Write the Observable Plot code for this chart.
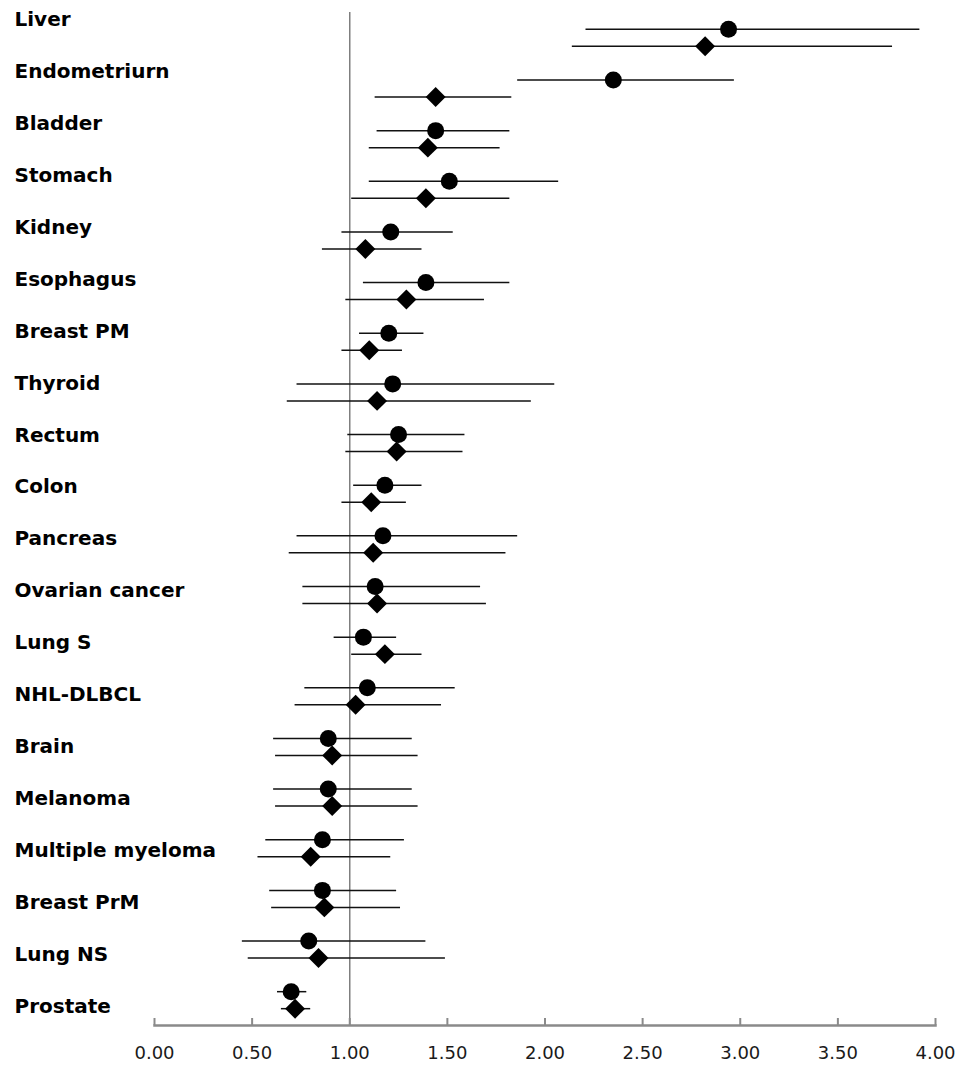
<!DOCTYPE html>
<html>
<head>
<meta charset="utf-8">
<script src="https://cdn.jsdelivr.net/npm/d3@7"></script>
<script src="https://cdn.jsdelivr.net/npm/@observablehq/plot@0.6"></script>
<style>
  html, body { margin: 0; padding: 0; background: #fff; }
  #chart svg { display: block; }
</style>
</head>
<body>
<div id="chart"></div>
<script>
// Categories, top to bottom
const categories = ["Liver", "Endometriurn", "Bladder", "Stomach", "Kidney", "Esophagus", "Breast PM",
  "Thyroid", "Rectum", "Colon", "Pancreas", "Ovarian cancer", "Lung S", "NHL-DLBCL", "Brain",
  "Melanoma", "Multiple myeloma", "Breast PrM", "Lung NS", "Prostate"];

// Series 1 (circles): estimate and interval
const circleEst = [2.94, 2.35, 1.44, 1.51, 1.21, 1.39, 1.20, 1.22, 1.25, 1.18, 1.17, 1.13, 1.07, 1.09, 0.89, 0.89, 0.86, 0.86, 0.79, 0.70];
const circleLo  = [2.21, 1.86, 1.14, 1.10, 0.96, 1.07, 1.05, 0.73, 0.99, 1.02, 0.73, 0.76, 0.92, 0.77, 0.61, 0.61, 0.57, 0.59, 0.45, 0.63];
const circleHi  = [3.92, 2.97, 1.82, 2.07, 1.53, 1.82, 1.38, 2.05, 1.59, 1.37, 1.86, 1.67, 1.24, 1.54, 1.32, 1.32, 1.28, 1.24, 1.39, 0.78];

// Series 2 (diamonds): estimate and interval
const diamondEst = [2.82, 1.44, 1.40, 1.39, 1.08, 1.29, 1.10, 1.14, 1.24, 1.11, 1.12, 1.14, 1.18, 1.03, 0.91, 0.91, 0.80, 0.87, 0.84, 0.72];
const diamondLo  = [2.14, 1.13, 1.10, 1.01, 0.86, 0.98, 0.96, 0.68, 0.98, 0.96, 0.69, 0.76, 1.01, 0.72, 0.62, 0.62, 0.53, 0.60, 0.48, 0.65];
const diamondHi  = [3.78, 1.83, 1.77, 1.82, 1.37, 1.69, 1.27, 1.93, 1.58, 1.29, 1.80, 1.70, 1.37, 1.47, 1.35, 1.35, 1.21, 1.26, 1.49, 0.80];

// X axis tick values
const xTicks = [0, 0.5, 1, 1.5, 2, 2.5, 3, 3.5, 4];

const circles = categories.map((c, i) => ({cat: c, row: i, est: circleEst[i], lo: circleLo[i], hi: circleHi[i]}));
const diamonds = categories.map((c, i) => ({cat: c, row: i, est: diamondEst[i], lo: diamondLo[i], hi: diamondHi[i]}));

// category labels sit on a slightly wider pitch than the markers in the original
const labelPitch = 1.025, labelShift = -0.355;

const chart = Plot.plot({
  width: 966,
  height: 1070,
  marginLeft: 154,
  marginRight: 31,
  marginTop: 12,
  marginBottom: 45,
  x: {domain: [0, 4]},
  y: {domain: [-0.5, 19.5], reverse: true, axis: null},
  style: {fontFamily: "'DejaVu Sans', sans-serif", background: "#fff", overflow: "visible"},
  marks: [
    Plot.frame({anchor: "bottom", stroke: "#8a8a8a", strokeWidth: 2.5}),
    Plot.ruleX([1], {stroke: "#7f7f7f", strokeWidth: 1.5}),
    Plot.axisX(xTicks, {tickSize: -7, tickPadding: 28, tickFormat: d3.format(".2f"),
      stroke: "#8a8a8a", strokeWidth: 2, fontSize: 18, fill: "#1a1a1a"}),
    Plot.ruleY(circles, {y: "row", x1: "lo", x2: "hi", dy: -8.5, stroke: "#111", strokeWidth: 1.5}),
    Plot.ruleY(diamonds, {y: "row", x1: "lo", x2: "hi", dy: 8.5, stroke: "#111", strokeWidth: 1.5}),
    Plot.dot(circles, {x: "est", y: "row", dy: -8.5, r: 8.5, symbol: "circle", fill: "#000", stroke: null}),
    Plot.dot(diamonds, {x: "est", y: "row", dy: 8.5, r: 9, symbol: "diamond2", fill: "#000", stroke: null}),
    Plot.text(categories, {y: (d, i) => i * labelPitch + labelShift, text: d => d,
      frameAnchor: "left", dx: -140, textAnchor: "start", fontSize: 20, fontWeight: "bold", fill: "#000"})
  ]
});
document.getElementById("chart").appendChild(chart);
</script>
</body>
</html>
